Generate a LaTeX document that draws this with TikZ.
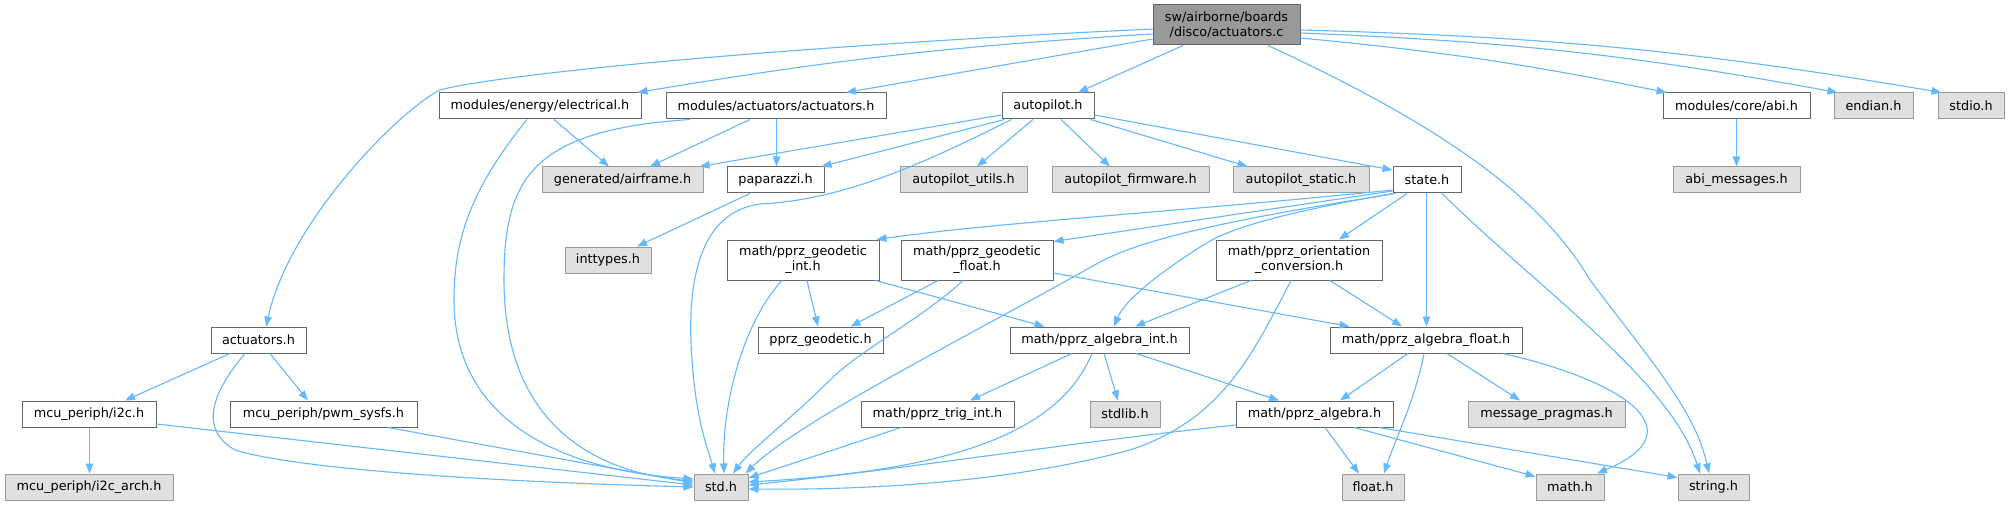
\documentclass[tikz,border=0pt]{standalone}
\usepackage{fontspec}
\setmainfont{DejaVu Sans}
\usetikzlibrary{arrows.meta}
\definecolor{edgec}{HTML}{63B8FF}
\definecolor{grayfill}{HTML}{E0E0E0}
\definecolor{grayline}{HTML}{999999}
\definecolor{darkline}{HTML}{666666}
\definecolor{rootfill}{HTML}{999999}
\begin{document}
\begin{tikzpicture}[x=1pt,y=-1pt,
  every node/.style={font=\fontsize{12.8}{15}\selectfont},
  wbox/.style={rectangle,draw=darkline,fill=white,line width=1pt,inner sep=0pt,minimum height=26pt,align=center},
  gbox/.style={rectangle,draw=grayline,fill=grayfill,line width=1pt,inner sep=0pt,minimum height=26pt,align=center},
  rbox/.style={rectangle,draw=darkline,fill=rootfill,line width=1pt,inner sep=0pt,minimum height=40pt,align=center},
  tall/.style={minimum height=40pt},
  edge/.style={draw=edgec,line width=1.1pt,-{Triangle[length=10pt,width=7.5pt]}}]
\fill[white] (0,0) rectangle (2009,505);
\useasboundingbox (0,0) rectangle (2009,505);

% nodes
\node[rbox,minimum width=147pt] (root) at (1226.5,25) {sw/airborne/boards\\/disco/actuators.c};
\node[wbox,minimum width=202pt] (electrical) at (540,106) {modules/energy/electrical.h};
\node[wbox,minimum width=220pt] (actmod) at (776,106) {modules/actuators/actuators.h};
\node[wbox,minimum width=92pt] (autopilot) at (1048,106) {autopilot.h};
\node[wbox,minimum width=147pt] (abi) at (1736.5,106) {modules/core/abi.h};
\node[gbox,minimum width=79pt] (endian) at (1873.5,106) {endian.h};
\node[gbox,minimum width=66pt] (stdio) at (1971,106) {stdio.h};
\node[gbox,minimum width=161pt] (airframe) at (622.5,180) {generated/airframe.h};
\node[wbox,minimum width=97pt] (paparazzi) at (775.5,180) {paparazzi.h};
\node[gbox,minimum width=127pt] (apu) at (963.5,180) {autopilot\_utils.h};
\node[gbox,minimum width=157pt] (apf) at (1130.5,180) {autopilot\_firmware.h};
\node[gbox,minimum width=136pt] (aps) at (1301,180) {autopilot\_static.h};
\node[wbox,minimum width=68pt] (state) at (1427,180) {state.h};
\node[gbox,minimum width=127pt] (abimsg) at (1736.5,180) {abi\_messages.h};
\node[gbox,minimum width=86pt] (inttypes) at (608,260) {inttypes.h};
\node[wbox,tall,minimum width=152pt] (geoint) at (803,260) {math/pprz\_geodetic\\\_int.h};
\node[wbox,tall,minimum width=152pt] (geofloat) at (977,260) {math/pprz\_geodetic\\\_float.h};
\node[wbox,tall,minimum width=166pt] (orient) at (1299,260) {math/pprz\_orientation\\\_conversion.h};
\node[wbox,minimum width=95pt] (actuatorsh) at (258.5,340) {actuators.h};
\node[wbox,minimum width=125pt] (pprzgeo) at (820.5,340) {pprz\_geodetic.h};
\node[wbox,minimum width=179pt] (algint) at (1099.5,340) {math/pprz\_algebra\_int.h};
\node[wbox,minimum width=192pt] (algfloat) at (1426,340) {math/pprz\_algebra\_float.h};
\node[wbox,minimum width=134pt] (i2c) at (89,414) {mcu\_periph/i2c.h};
\node[wbox,minimum width=187pt] (pwm) at (323.5,414) {mcu\_periph/pwm\_sysfs.h};
\node[wbox,minimum width=153pt] (trig) at (937.5,414) {math/pprz\_trig\_int.h};
\node[gbox,minimum width=70pt] (stdlib) at (1125,414) {stdlib.h};
\node[wbox,minimum width=157pt] (algebra) at (1314.5,414) {math/pprz\_algebra.h};
\node[gbox,minimum width=157pt] (msgprag) at (1546.5,414) {message\_pragmas.h};
\node[gbox,minimum width=168pt] (i2carch) at (89,487) {mcu\_periph/i2c\_arch.h};
\node[gbox,minimum width=54pt] (std) at (721,487) {std.h};
\node[gbox,minimum width=62pt] (float) at (1373,487) {float.h};
\node[gbox,minimum width=68pt] (math) at (1570,487) {math.h};
\node[gbox,minimum width=71pt] (string) at (1713.5,487) {string.h};

% root edges
\draw[edge] ([yshift=-4pt]root.west) .. controls (750,48) and (490,76) .. (440,90) .. controls (400,110) and (290,220) .. ([xshift=7.5pt]actuatorsh.north);
\draw[edge] ([yshift=-9pt]root.west) to[bend right=3] ([xshift=-4pt]electrical.north east);
\draw[edge] ([yshift=-14pt]root.west) -- ([xshift=70pt]actmod.north);
\draw[edge] ([xshift=-43.5pt]root.south) -- ([xshift=30pt]autopilot.north);
\draw[edge] ([xshift=41.5pt]root.south) .. controls (1440,125) and (1540,195) .. (1590,280) .. controls (1650,360) and (1695,410) .. ([xshift=-4.5pt]string.north);
\draw[edge] ([yshift=-13pt]root.east) to[bend left=3] ([xshift=4pt]abi.north west);
\draw[edge] ([yshift=-8pt]root.east) to[bend left=4] ([xshift=4pt]endian.north west);
\draw[edge] ([yshift=-5pt]root.east) to[bend left=4] ([xshift=4pt]stdio.north west);

% electrical
\draw[edge] ([xshift=14pt]electrical.south) -- ([xshift=-13.5pt]airframe.north);
\draw[edge] ([xshift=-13pt]electrical.south) .. controls (470,190) and (454,240) .. (454,300) .. controls (454,420) and (560,470) .. ([yshift=8pt]std.west);

% actuators module
\draw[edge] ([xshift=-26pt]actmod.south) -- ([xshift=27.5pt]airframe.north);
\draw[edge] ([xshift=0.5pt]actmod.south) -- ([xshift=1pt]paparazzi.north);
\draw[edge] ([xshift=-86pt]actmod.south) .. controls (530,130) and (504,180) .. (504,280) .. controls (504,420) and (590,472) .. ([yshift=6pt]std.west);

% autopilot
\draw[edge] ([yshift=-9pt]autopilot.west) -- ([xshift=-4pt]airframe.north east);
\draw[edge] ([xshift=3pt]autopilot.south west) -- ([xshift=-3pt]paparazzi.north east);
\draw[edge] ([xshift=10pt]autopilot.south west) .. controls (940,155) and (850,200) .. (760,204) .. controls (700,212) and (686,280) .. (692,360) .. controls (696,420) and (708,450) .. ([xshift=-6pt]std.north);
\draw[edge] ([xshift=-15pt]autopilot.south) -- ([xshift=13.5pt]apu.north);
\draw[edge] ([xshift=13pt]autopilot.south) -- ([xshift=-20.5pt]apf.north);
\draw[edge] ([xshift=-4pt]autopilot.south east) -- ([xshift=15pt]aps.north west);
\draw[edge] ([yshift=-9pt]autopilot.east) -- ([yshift=10pt]state.west);

% paparazzi, abi
\draw[edge] ([xshift=-25.5pt]paparazzi.south) -- ([xshift=29pt]inttypes.north);
\draw[edge] (abi.south) -- (abimsg.north);

% state
\draw[edge] ([yshift=-10pt]state.west) .. controls (1200,210) and (1000,222) .. ([xshift=-3pt]geoint.north east);
\draw[edge] ([yshift=-11pt]state.west) -- ([yshift=-2pt]geofloat.north east);
\draw[edge] (state.south west) .. controls (1300,210) and (1235,225) .. (1205,244) .. controls (1160,272) and (1125,300) .. ([xshift=14.5pt]algint.north);
\draw[edge] ([xshift=3pt]state.south west) .. controls (1260,215) and (1150,235) .. (1100,262) .. controls (980,330) and (800,420) .. ([xshift=-3pt]std.north east);
\draw[edge] ([xshift=-20pt]state.south) -- ([xshift=40pt]orient.north);
\draw[edge] ([xshift=-0.5pt]state.south) -- ([xshift=0.5pt]algfloat.north);
\draw[edge] ([xshift=15pt]state.south) .. controls (1540,290) and (1670,380) .. ([xshift=-13.5pt]string.north);

% geodetic int / float
\draw[edge] ([xshift=4pt]geoint.south) -- ([xshift=-2.5pt]pprzgeo.north);
\draw[edge] ([xshift=-4pt]geoint.south east) -- ([xshift=-55pt]algint.north);
\draw[edge] ([xshift=-21pt]geoint.south) .. controls (745,320) and (722,400) .. ([xshift=3pt]std.north);
\draw[edge] ([xshift=-39pt]geofloat.south) -- ([xshift=30pt]pprzgeo.north);
\draw[edge] ([yshift=-13pt]geofloat.east) -- ([xshift=20pt]algfloat.north west);
\draw[edge] ([xshift=-14pt]geofloat.south) .. controls (920,320) and (860,350) .. (830,380) .. controls (790,420) and (750,450) .. ([xshift=12pt]std.north);

% orientation
\draw[edge] ([xshift=-48pt]orient.south) -- ([xshift=35.5pt]algint.north);
\draw[edge] ([xshift=31pt]orient.south) -- ([xshift=-24pt]algfloat.north);
\draw[edge] ([xshift=-8pt]orient.south) .. controls (1250,360) and (1220,420) .. (1130,450) .. controls (1000,485) and (850,490) .. ([yshift=-2pt]std.east);

% actuators.h
\draw[edge] ([xshift=-28.5pt]actuatorsh.south) -- ([xshift=36pt]i2c.north);
\draw[edge] ([xshift=11.5pt]actuatorsh.south) -- ([xshift=-15.5pt]pwm.north);
\draw[edge] ([xshift=-13.5pt]actuatorsh.south) .. controls (210,395) and (200,430) .. (235,450) .. controls (300,470) and (500,482) .. (std.west);

% i2c, pwm, trig
\draw[edge] ([xshift=0.5pt]i2c.south) -- ([xshift=0.5pt]i2carch.north);
\draw[edge] ([yshift=-10pt]i2c.east) -- ([yshift=2pt]std.west);
\draw[edge] ([xshift=64.5pt]pwm.south) -- ([yshift=4pt]std.west);
\draw[edge] ([xshift=-36.5pt]trig.south) -- ([yshift=9pt]std.east);

% algebra int
\draw[edge] ([xshift=-27.5pt]algint.south) -- ([xshift=32.5pt]trig.north);
\draw[edge] ([xshift=4.5pt]algint.south) -- ([xshift=-7pt]stdlib.north);
\draw[edge] ([xshift=36.5pt]algint.south) -- ([xshift=-35.5pt]algebra.north);
\draw[edge] ([xshift=-7.5pt]algint.south) .. controls (1060,430) and (960,470) .. ([yshift=5pt]std.east);

% algebra float
\draw[edge] ([xshift=-18pt]algfloat.south) -- ([xshift=25.5pt]algebra.north);
\draw[edge] ([xshift=21pt]algfloat.south) -- ([xshift=-26.5pt]msgprag.north);
\draw[edge] ([xshift=-2pt]algfloat.south) .. controls (1415,400) and (1395,440) .. ([xshift=11pt]float.north);
\draw[edge] ([xshift=77pt]algfloat.south) .. controls (1620,380) and (1700,430) .. ([xshift=27pt]math.north);

% algebra
\draw[edge] ([yshift=-11pt]algebra.west) .. controls (1050,445) and (900,470) .. ([yshift=2pt]std.east);
\draw[edge] ([xshift=10.5pt]algebra.south) -- ([xshift=-14pt]float.north);
\draw[edge] ([xshift=39.5pt]algebra.south) -- ([yshift=-3pt]math.north west);
\draw[edge] ([xshift=64.5pt]algebra.south) -- ([yshift=-4pt]string.north west);
\end{tikzpicture}
\end{document}
